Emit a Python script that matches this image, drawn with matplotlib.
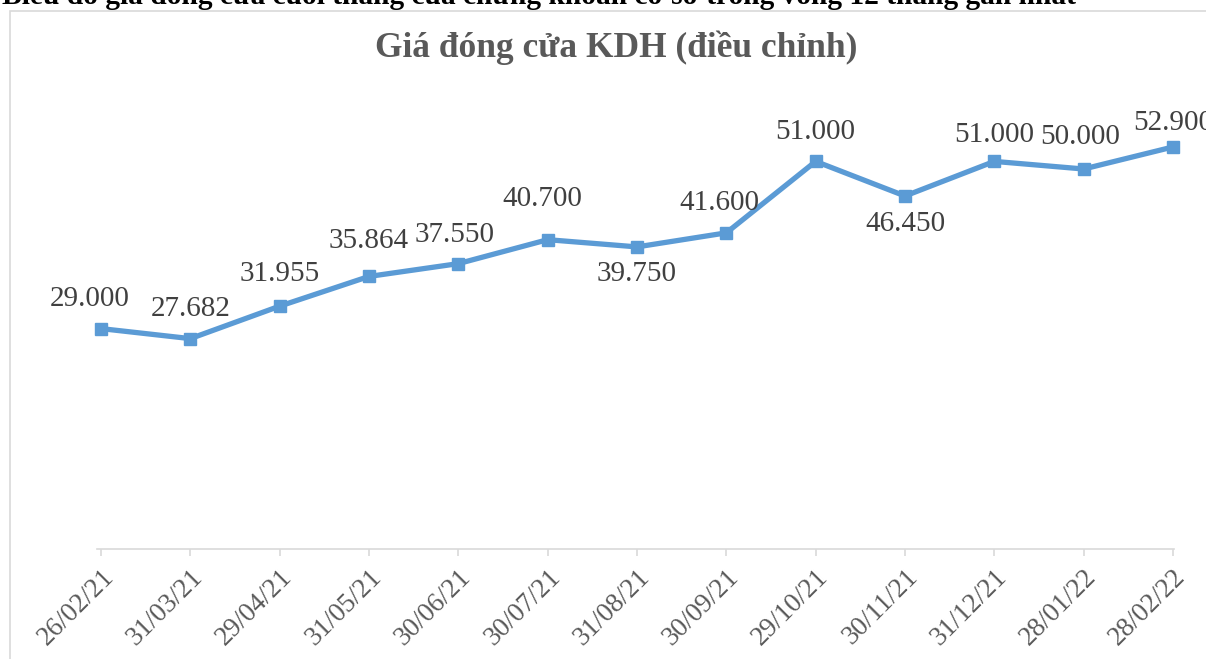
import matplotlib
matplotlib.use("Agg")
import matplotlib.pyplot as plt
from matplotlib.patches import Rectangle

dates = ["26/02/21", "31/03/21", "29/04/21", "31/05/21", "30/06/21", "30/07/21",
         "31/08/21", "30/09/21", "29/10/21", "30/11/21", "31/12/21", "28/01/22", "28/02/22"]
prices = [29.000, 27.682, 31.955, 35.864, 37.550, 40.700, 39.750, 41.600,
          51.000, 46.450, 51.000, 50.000, 52.900]
labels = ["29.000", "27.682", "31.955", "35.864", "37.550", "40.700", "39.750",
          "41.600", "51.000", "46.450", "51.000", "50.000", "52.900"]
# label offsets in pixels (dx, dy up)
offsets = [(-11, 30), (0, 30), (0, 32), (0, 35), (-4, 29), (-5, 41), (0, -27),
           (-7, 30), (0, 29), (0, -28), (0, 26), (-4, 32), (0, 24)]

W, H = 1206, 659
fig = plt.figure(figsize=(W / 100, H / 100), dpi=100)
serif = ["Liberation Serif", "DejaVu Serif"]

# chart border
fig.patches.append(Rectangle((10 / W, -0.01), 1.02, (H - 11) / H + 0.01,
                             transform=fig.transFigure, fill=False,
                             edgecolor="#D9D9D9", linewidth=1.2))

# cut-off heading at the top
fig.text(2 / W, 1 - 4 / H, "Biểu đồ giá đóng cửa cuối tháng của chứng khoán cơ sở trong vòng 12 tháng gần nhất",
         fontsize=21.2, fontweight="bold", family=serif, color="black", va="baseline", ha="left")

left, right = 97, 1174
bottom, top = 549, 93
ax = fig.add_axes([left / W, (H - bottom) / H, (right - left) / W, (bottom - top) / H])
x = list(range(len(dates)))
ax.plot(x, prices, color="#5B9BD5", linewidth=3.8, marker="s", markersize=8.5,
        markeredgecolor="#5B9BD5", markerfacecolor="#5B9BD5", solid_joinstyle="miter", clip_on=False, zorder=3)
ax.set_xlim(-4 / 89.33, 12 + 1 / 89.33)
ax.set_ylim(0, 60)

for xi, yi, lab, (dx, dy) in zip(x, prices, labels, offsets):
    ax.annotate(lab, (xi, yi), xytext=(dx * 0.72, dy * 0.72), textcoords="offset points",
                ha="center", va="center", fontsize=21, family=serif, color="#404040",
                annotation_clip=False)

for s in ["left", "right", "top"]:
    ax.spines[s].set_visible(False)
ax.spines["bottom"].set_color("#D9D9D9")
ax.spines["bottom"].set_linewidth(1.2)
ax.set_yticks([])
ax.set_xticks(x)
ax.set_xticklabels(dates, rotation=45, ha="right", va="top", rotation_mode="anchor",
                   fontsize=19.5, family=serif, color="#595959")
ax.tick_params(axis="x", length=5, color="#D9D9D9", width=1.2, pad=6)

fig.text(616 / W, 1 - 48 / H, "Giá đóng cửa KDH (điều chỉnh)", ha="center", va="center",
         fontsize=25.5, fontweight="bold", family=serif, color="#595959")

fig.savefig("out.png", dpi=100)
